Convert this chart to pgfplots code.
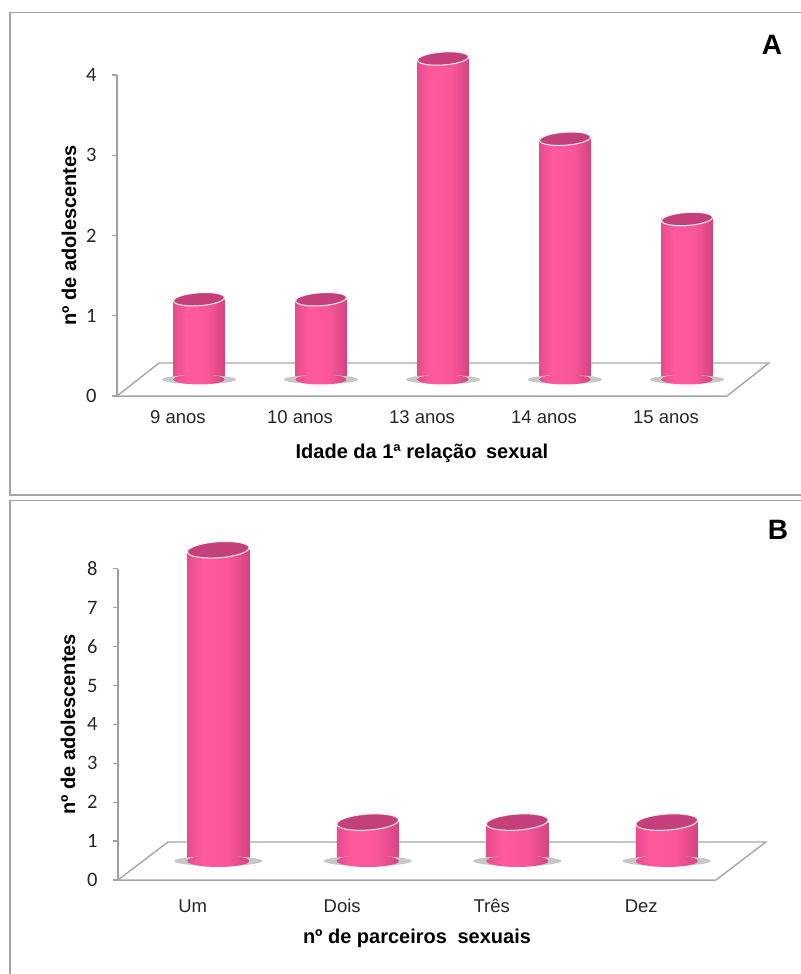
\documentclass[border=0pt]{standalone}
\usepackage{fontspec}
\setmainfont{Liberation Sans}
\newfontfamily\carlito{Carlito}
\usepackage{pgfplots}
\usepackage{pgfplotstable}
\pgfplotsset{compat=1.18}

\definecolor{cdark}{HTML}{A82760}
\definecolor{cbright}{HTML}{FF5A9C}
\definecolor{ctop}{HTML}{C4407A}
\definecolor{lgrey}{HTML}{A6A6A6}
\definecolor{fgrey}{HTML}{A0A0A0}

\pgfdeclarehorizontalshading{cyl}{100bp}{color(0bp)=(cdark); color(10bp)=(cdark!60!cbright); color(38bp)=(cbright); color(58bp)=(cbright!92!cdark); color(88bp)=(cdark!75!cbright); color(100bp)=(cdark)}

\pgfdeclareplotmark{topA}{\pgfpathellipse{\pgfpointorigin}{\pgfqpoint{25.5bp}{0bp}}{\pgfqpoint{0bp}{6.5bp}}\pgfusepathqfillstroke}
\pgfdeclareplotmark{botA}{\pgfpathellipse{\pgfpointorigin}{\pgfqpoint{25.5bp}{0bp}}{\pgfqpoint{0bp}{5bp}}\pgfshadepath{cyl}{0}\pgfusepath{discard}}
\pgfdeclareplotmark{shadA}{\pgfpathellipse{\pgfpointorigin}{\pgfqpoint{37bp}{0bp}}{\pgfqpoint{0bp}{4.5bp}}\pgfusepathqfill}
\pgfdeclareplotmark{topB}{\pgfpathellipse{\pgfpointorigin}{\pgfqpoint{31bp}{0bp}}{\pgfqpoint{0bp}{8bp}}\pgfusepathqfillstroke}
\pgfdeclareplotmark{botB}{\pgfpathellipse{\pgfpointorigin}{\pgfqpoint{31bp}{0bp}}{\pgfqpoint{0bp}{6bp}}\pgfshadepath{cyl}{0}\pgfusepath{discard}}
\pgfdeclareplotmark{shadB}{\pgfpathellipse{\pgfpointorigin}{\pgfqpoint{44bp}{0bp}}{\pgfqpoint{0bp}{5bp}}\pgfusepathqfill}

\pgfplotstableread{
x y
0 1
1 1
2 4
3 3
4 2
}\dataA
\pgfplotstableread{
x y
0 8
1 1
2 1
3 1
}\dataB

\pgfplotsset{
  frontaxis/.style={
    scale only axis, clip=false,
    axis x line*=bottom, axis y line*=left,
    axis line style={fgrey, line width=1.4bp, -},
    x tick style={draw=none},
    y tick style={fgrey, line width=1.2bp},
    tick align=outside, major tick length=5bp,
    /pgf/number format/assume math mode=true,
    yticklabel style={font=\carlito\fontsize{20.5bp}{22bp}\selectfont, text=black!85, xshift=-12bp},
    xticklabel style={font=\fontsize{18.5bp}{20bp}\selectfont, text=black!85, anchor=base, yshift=-23bp},
    xlabel style={font=\bfseries\fontsize{20bp}{24bp}\selectfont, anchor=center},
    ylabel style={font=\bfseries\fontsize{20bp}{24bp}\selectfont, anchor=center},
  },
  backaxis/.style={scale only axis, clip=false, hide axis},
}

\begin{document}
\begin{tikzpicture}
\useasboundingbox (0,0) rectangle (801bp,974bp);
\draw[lgrey, line width=1.3bp] (10bp,479bp) rectangle (810bp,961.5bp);
\draw[lgrey, line width=1.3bp] (10bp,-10bp) rectangle (810bp,473.5bp);
\node[font=\bfseries\fontsize{28bp}{32bp}\selectfont] at (772bp,929bp) {A};
\node[font=\bfseries\fontsize{28bp}{32bp}\selectfont] at (778bp,444bp) {B};

% ---------- Panel A ----------
\begin{axis}[frontaxis,
  at={(117bp,578bp)}, anchor=south west, width=610bp, height=321bp,
  xmin=-0.5, xmax=4.5, ymin=0, ymax=4,
  xtick={0,1,2,3,4}, xticklabels={9 anos,10 anos,13 anos,14 anos,15 anos},
  ytick={0,1,2,3,4},
  xlabel={Idade da 1ª relação\hspace{4bp} sexual},
  xlabel style={at={(axis description cs:0.5,-0.1776)}},
  ylabel={nº de adolescentes},
  ylabel style={at={(axis description cs:-0.0787,0.5)}},
]
\addplot[draw=lgrey, line width=1.4bp, fill=white] coordinates {(-0.5,0) (4.5,0) (4.844,0.411) (-0.156,0.411)} -- cycle;
\end{axis}
\begin{axis}[backaxis,
  at={(138bp,594.5bp)}, anchor=south west, width=610bp, height=321bp,
  xmin=-0.5, xmax=4.5, ymin=0, ymax=4]
\addplot[only marks, mark=shadA, mark options={fill=black!22, draw=none}] table[x=x, y expr=0] {\dataA};
\addplot[only marks, mark=botA] table[x=x, y expr=0] {\dataA};
\pgfplotsinvokeforeach{0,1,2,3,4}{
  \addplot[ybar, bar width=51bp, draw=none, shading=cyl, restrict x to domain=#1:#1] table[x=x, y=y] {\dataA};
}
\addplot[only marks, mark=topA, mark options={fill=ctop, draw=white!80!pink, line width=1bp, rotate=4}] table[x=x, y=y] {\dataA};
\end{axis}

% ---------- Panel B ----------
\begin{axis}[frontaxis,
  at={(118bp,94bp)}, anchor=south west, width=598bp, height=311.2bp,
  xmin=-0.5, xmax=3.5, ymin=0, ymax=8,
  xtick={0,1,2,3}, xticklabels={Um,Dois,Três,Dez},
  ytick={0,1,2,3,4,5,6,7,8},
  xticklabel style={yshift=-4bp},
  xlabel={nº de parceiros\hspace{5bp} sexuais},
  xlabel style={at={(axis description cs:0.5,-0.186)}},
  ylabel={nº de adolescentes},
  ylabel style={at={(axis description cs:-0.0836,0.5)}},
]
\addplot[draw=lgrey, line width=1.4bp, fill=white] coordinates {(-0.5,0) (3.5,0) (3.834,0.977) (-0.166,0.977)} -- cycle;
\end{axis}
\begin{axis}[backaxis,
  at={(143.5bp,113bp)}, anchor=south west, width=598bp, height=311.2bp,
  xmin=-0.5, xmax=3.5, ymin=0, ymax=8]
\addplot[only marks, mark=shadB, mark options={fill=black!22, draw=none}] table[x=x, y expr=0] {\dataB};
\addplot[only marks, mark=botB] table[x=x, y expr=0] {\dataB};
\pgfplotsinvokeforeach{0,1,2,3}{
  \addplot[ybar, bar width=62bp, draw=none, shading=cyl, restrict x to domain=#1:#1] table[x=x, y=y] {\dataB};
}
\addplot[only marks, mark=topB, mark options={fill=ctop, draw=white!80!pink, line width=1bp, rotate=4}] table[x=x, y=y] {\dataB};
\end{axis}
\end{tikzpicture}
\end{document}
